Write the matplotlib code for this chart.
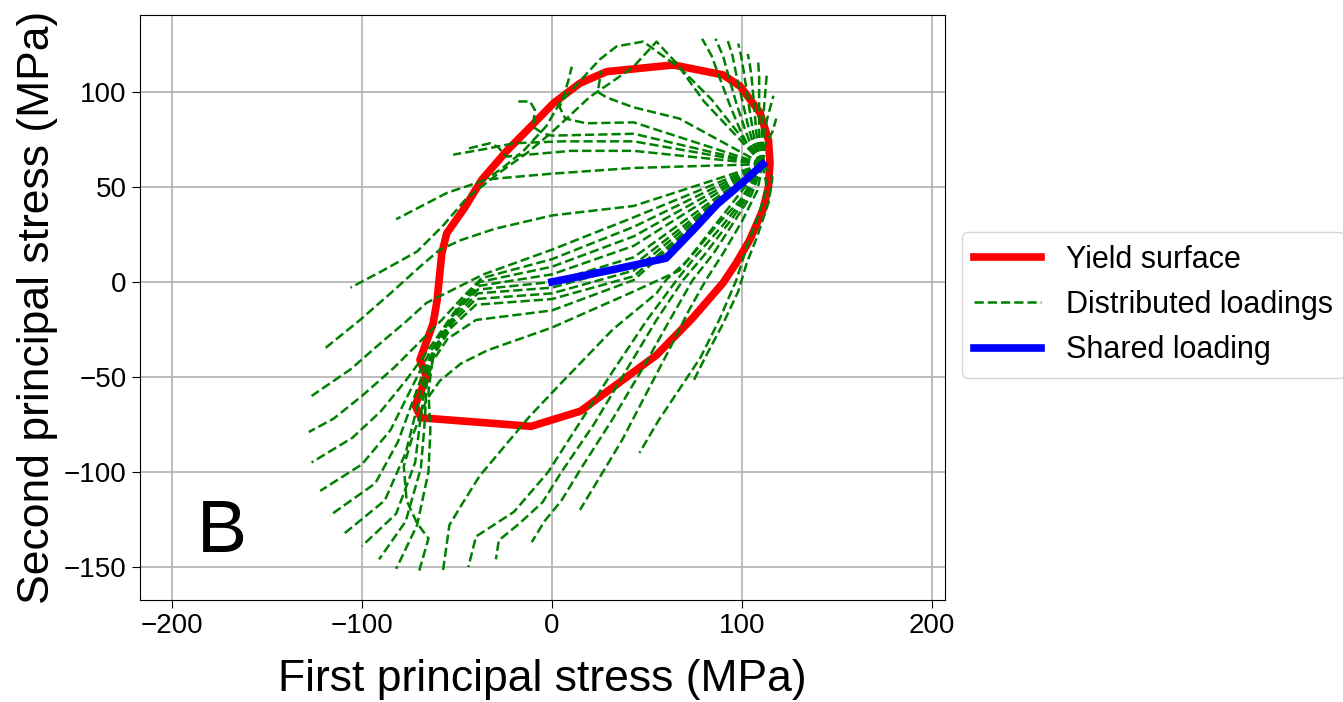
import matplotlib
matplotlib.use("Agg")
import matplotlib.pyplot as plt

plt.rcParams['font.family'] = ['Liberation Sans', 'DejaVu Sans']

# ---------------- data ----------------
yield_x = [63.8, 90, 99, 109.5, 113.9, 114.7, 113.9, 111, 104, 97, 90, 74, 55, 15, -11,
           -69, -72, -66, -69.5, -62.6, -60.5, -58, -55.4, -46, -37, -23.8, -9, 0.7, 14.7, 28.8, 63.8]
yield_y = [114.2, 109, 103, 89, 74.7, 62.6, 50, 38, 22, 10, -0.5, -19, -38.5, -68, -76,
           -71.5, -65, -50, -41, -22, -10, 15, 25.6, 39, 53.7, 69, 84, 94, 104.6, 110.7, 114.2]

shared_x = [0, 30, 60, 74, 87, 100, 111]
shared_y = [0, 6, 12.5, 27, 41, 52, 62]

# distributed loading paths (each continues from the end of the shared loading)
paths_top = [
    [(104, 70), (99, 80), (94, 92), (88, 108), (84, 119), (79, 128)],
    [(105, 71), (101, 82), (97, 94), (93, 108), (90, 119), (86, 128)],
    [(106, 72), (103, 83), (100, 96), (97, 109), (95, 119), (92.5, 127)],
    [(107, 72), (105, 84), (103, 97), (101, 110), (99.5, 119), (98, 125.5)],
    [(108, 73), (107, 85), (106, 97), (105, 108), (104, 115), (103, 120)],
    [(109, 73), (109, 85), (109, 97), (109, 108), (108.5, 116)],
    [(110, 73), (111, 85), (112, 97), (113, 109)],
    [(111, 73), (113, 85), (116.5, 98)],
    [(112, 72), (116, 79), (118, 86)],
]

paths_upper = [
    [(80, 95), (65.6, 115), (55, 126.5), (42.6, 113), (30.5, 104.6), (20, 97.5), (7.7, 86),
     (-1, 78), (-13, 68), (-27, 58), (-45, 44), (-57, 30), (-71, 16), (-89, 6), (-106, -3)],
    [(84, 96), (68, 112), (48, 126.5), (34, 124), (25, 117), (15, 106), (4, 94), (-3, 82),
     (-15, 69), (-26, 60), (-34, 54.5)],
    [(67, 86), (42.6, 92), (29, 97), (24, 100), (26, 111)],
    [(43, 84), (18, 83.5), (7, 86), (4, 92), (6, 97.5), (8.6, 106), (10.4, 113.3)],
    [(43, 78), (0, 77), (-4.6, 78), (-10, 81.7), (-9, 90.5), (-11.6, 95), (-17.7, 95)],
    [(43, 74), (5, 74), (-20, 73), (-35, 70), (-52, 67)],
    [(43, 69), (10, 69), (-24, 66), (-28.4, 71), (-32.6, 73), (-45, 70)],
    [(43, 60), (0, 57), (-34, 54), (-55, 47), (-82, 33)],
    [(43, 40), (0, 35), (-30, 28), (-48, 22), (-59, 17), (-69.5, 8), (-85, -6), (-101, -20), (-119.5, -35)],
]

paths_bundle = [
    [(43, 34), (0, 17), (-36, 4), (-50, -3), (-66, -11), (-77, -21), (-90, -32), (-106, -46), (-126.5, -60)],
    [(43, 29), (0, 12), (-37, 2), (-47, -8), (-58, -20), (-70, -32), (-83, -45), (-100, -60), (-115, -72), (-128, -79)],
    [(43, 24), (0, 8), (-38, 0), (-48, -11), (-57, -24), (-66, -37), (-77, -52), (-90, -68), (-105, -82), (-126.5, -95)],
    [(43, 19), (0, 4), (-38, -2), (-49, -13), (-58, -27), (-66, -40), (-75, -58), (-85, -78), (-100, -96), (-122, -110)],
    [(43, 13), (0, 0), (-39, -4), (-50, -15), (-59, -30), (-66, -43), (-73, -62), (-81, -84), (-93, -106), (-117, -123)],
    [(43, 9), (0, -3), (-39, -6), (-51, -18), (-60, -32), (-66, -46), (-71, -66), (-77, -90), (-88, -115), (-110, -133)],
    [(43, 6), (0, -6), (-40, -9), (-52, -21), (-61, -35), (-66, -50), (-69, -70), (-72, -95), (-82, -122), (-100, -139)],
    [(43, 3), (0, -9), (-40, -12), (-53, -24), (-62, -38), (-66, -54), (-67, -74), (-69, -98), (-77, -126), (-91, -146)],
    [(43, 1), (0, -15), (-40, -20), (-55, -30), (-63, -42), (-65, -58), (-64, -78), (-65, -100), (-71, -128), (-82, -151)],
    [(67, 6), (43, -5), (0, -24), (-34, -36), (-48, -43), (-59, -52), (-66, -62), (-73, -80), (-78, -97),
     (-76.5, -115), (-71, -127), (-65, -135), (-70, -152.5)],
]

paths_lower = [
    [(99, 43), (86, 29), (72, 12), (60, 1), (55, -6), (32, -25), (6, -52), (-12, -71), (-38, -102),
     (-48, -118), (-54, -128), (-57.5, -153)],
    [(101, 44), (90, 30), (76, 14), (65.6, 1), (50, -20), (32, -47), (14, -75), (-2, -100), (-20, -121),
     (-40, -134), (-44, -150)],
    [(103, 45), (93, 31), (80, 14), (69, 1), (55, -20), (40, -45), (22, -75), (5, -100), (-5, -116),
     (-17, -127), (-28, -136), (-29.5, -146)],
    [(105, 46), (96, 32), (85, 15), (74, 1), (62, -20), (48, -45), (32, -72), (16, -97), (5, -115),
     (-4, -126), (-10.7, -137)],
    [(108, 48), (100, 32), (90, 15), (81, 1), (72, -15), (62, -35), (50, -58), (37, -83), (25, -103),
     (14.7, -120)],
    [(113, 50), (109, 36), (103, 20), (97, 1), (88, -20), (78, -40), (66, -58), (56, -73), (46, -90)],
    [(116, 55), (114, 42), (108, 24), (102.5, 10), (98, -5), (90, -22), (81, -39), (74, -53)],
]

legend_labels = ["Yield surface", "Distributed loadings", "Shared loading"]

# ---------------- figure ----------------
fig = plt.figure(figsize=(13.43, 7.02), dpi=100)
ax = fig.add_axes([140 / 1343, 1 - 600 / 702, 805 / 1343, 585 / 702])

h_yield, = ax.plot(yield_x, yield_y, color='red', lw=5.5, zorder=3, solid_joinstyle='round',
                   label=legend_labels[0])

start = (shared_x[-1], shared_y[-1])
h_dist = None
for group in (paths_top, paths_upper, paths_bundle, paths_lower):
    for p in group:
        xs = [start[0]] + [q[0] for q in p]
        ys = [start[1]] + [q[1] for q in p]
        h, = ax.plot(xs, ys, color='green', ls='--', lw=1.8, zorder=4)
        if h_dist is None:
            h_dist = h
h_dist.set_label(legend_labels[1])

h_shared, = ax.plot(shared_x, shared_y, color='blue', lw=5.5, zorder=5, label=legend_labels[2])

ax.set_xlim(-216.8, 206.8)
ax.set_ylim(-167.4, 140.5)
ax.set_xticks([-200, -100, 0, 100, 200])
ax.set_yticks([-150, -100, -50, 0, 50, 100])
ax.tick_params(labelsize=20, length=6)
ax.grid(True, color='#b0b0b0', lw=1.2)
ax.set_axisbelow(True)

ax.set_xlabel("First principal stress (MPa)", fontsize=32, labelpad=14)
ax.set_ylabel("Second principal stress (MPa)", fontsize=32)

ax.text(-187, -142, "B", fontsize=54, ha='left', va='baseline')

fig.legend(handles=[h_yield, h_dist, h_shared], loc='center left',
           bbox_to_anchor=(962 / 1343, 1 - 305 / 702), borderaxespad=0,
           fontsize=22, handlelength=2.2, labelspacing=0.5, handletextpad=0.8)

fig.savefig("out.png", dpi=100)
